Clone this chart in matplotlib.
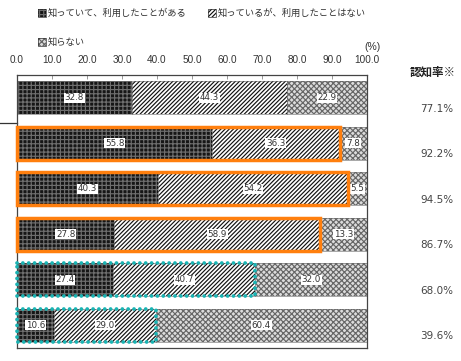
import matplotlib
matplotlib.use("Agg")
import matplotlib.pyplot as plt
from matplotlib.patches import Rectangle
import matplotlib.transforms as mtransforms

# survey results (%)
used = [32.8, 55.8, 40.3, 27.8, 27.4, 10.6]
known_not_used = [44.3, 36.3, 54.2, 58.9, 40.7, 29.0]
unknown = [22.9, 7.8, 5.5, 13.3, 32.0, 60.4]
awareness = [77.1, 92.2, 94.5, 86.7, 68.0, 39.6]
series_labels = ["知っていて、利用したことがある", "知っているが、利用したことはない", "知らない"]
tick_values = [0, 10, 20, 30, 40, 50, 60, 70, 80, 90, 100]
highlight_rows = {1: "orange", 2: "orange", 3: "orange", 4: "teal", 5: "teal"}

plt.rcParams["font.family"] = ["Noto Sans CJK JP", "DejaVu Sans"]
plt.rcParams["hatch.linewidth"] = 0.85

W, H = 461, 361
fig = plt.figure(figsize=(W / 100, H / 100), dpi=100)
ax = fig.add_axes([17 / W, 1 - 348 / H, 350 / W, 273 / H])

styles = [
    dict(facecolor="#161616", edgecolor="#6e6e6e", hatch="++++"),
    dict(facecolor="white", edgecolor="#111111", hatch="////////"),
    dict(facecolor="#dcdcdc", edgecolor="#666666", hatch="xxxxxx"),
]
bar_h = 0.72
rows = list(range(len(used)))
left = [0.0] * len(rows)
for vals, st in zip([used, known_not_used, unknown], styles):
    ax.barh(rows, vals, left=left, height=bar_h, linewidth=0, **st)
    ax.barh(rows, vals, left=left, height=bar_h, fill=False,
            edgecolor="#666666", linewidth=0.4)
    for r, v, l in zip(rows, vals, left):
        ax.text(l + v / 2, r, f"{v:.1f}", ha="center", va="center",
                fontsize=6.3, color="#333333", family="DejaVu Sans",
                bbox=dict(boxstyle="square,pad=0.08", fc="white", ec="none"))
    left = [a + b for a, b in zip(left, vals)]

# highlight frames around the "aware" share
for r, kind in highlight_rows.items():
    if kind == "orange":
        rect = Rectangle((0, r - bar_h / 2), awareness[r], bar_h, fill=False,
                         edgecolor="#ff7f0e", linewidth=2.5, clip_on=False, zorder=5)
    else:
        rect = Rectangle((0, r - bar_h / 2), awareness[r], bar_h, fill=False,
                         edgecolor="#19b4b4", linewidth=2.7, clip_on=False, zorder=5,
                         linestyle=(0, (0.01, 1.55)), capstyle="round")
    ax.add_patch(rect)

ax.set_xlim(0, 100)
ax.set_ylim(len(rows) - 0.5, -0.5)
ax.set_yticks([])
ax.xaxis.tick_top()
ax.set_xticks(tick_values)
ax.set_xticklabels([f"{t:.1f}" for t in tick_values], family="Liberation Sans",
                   fontsize=7.2, color="#333333")
ax.tick_params(axis="x", direction="in", length=3, width=0.6, color="#888888", pad=7)
for s in ax.spines.values():
    s.set_color("#444444")
    s.set_linewidth(0.9)

# separator to the left of the first group
trans = mtransforms.blended_transform_factory(ax.transAxes, ax.transData)
ax.plot([-17 / 350, 0], [0.55, 0.55], transform=trans, color="#333333",
        linewidth=0.9, clip_on=False)

fig.text(372 / W, 1 - 47 / H, "(%)", ha="center", va="center", fontsize=7.5,
         family="Liberation Sans", color="#333333")

# awareness column
fig.text(433 / W, 1 - 72 / H, "認知率※", ha="center", va="center",
         fontsize=8.3, fontweight="bold", color="#222222")
for r, a in zip(rows, awareness):
    y_disp = ax.transData.transform((0, r))[1]
    fig.text(437 / W, (y_disp - 11) / H, f"{a:.1f}%", ha="center", va="center",
             fontsize=7.5, family="DejaVu Sans", color="#444444")

# legend
legend_pos = [(38, 13), (208, 13), (38, 42)]
for (px, py), lab, st in zip(legend_pos, series_labels, styles):
    fig.add_artist(Rectangle((px / W, 1 - (py + 4) / H), 8 / W, 8 / H,
                             transform=fig.transFigure, linewidth=0, **st))
    fig.add_artist(Rectangle((px / W, 1 - (py + 4) / H), 8 / W, 8 / H,
                             transform=fig.transFigure, fill=False,
                             edgecolor="#333333", linewidth=0.5))
    fig.text((px + 10) / W, 1 - py / H, lab, ha="left", va="center",
             fontsize=6.7, color="#333333")

fig.savefig("out.png", dpi=100)
